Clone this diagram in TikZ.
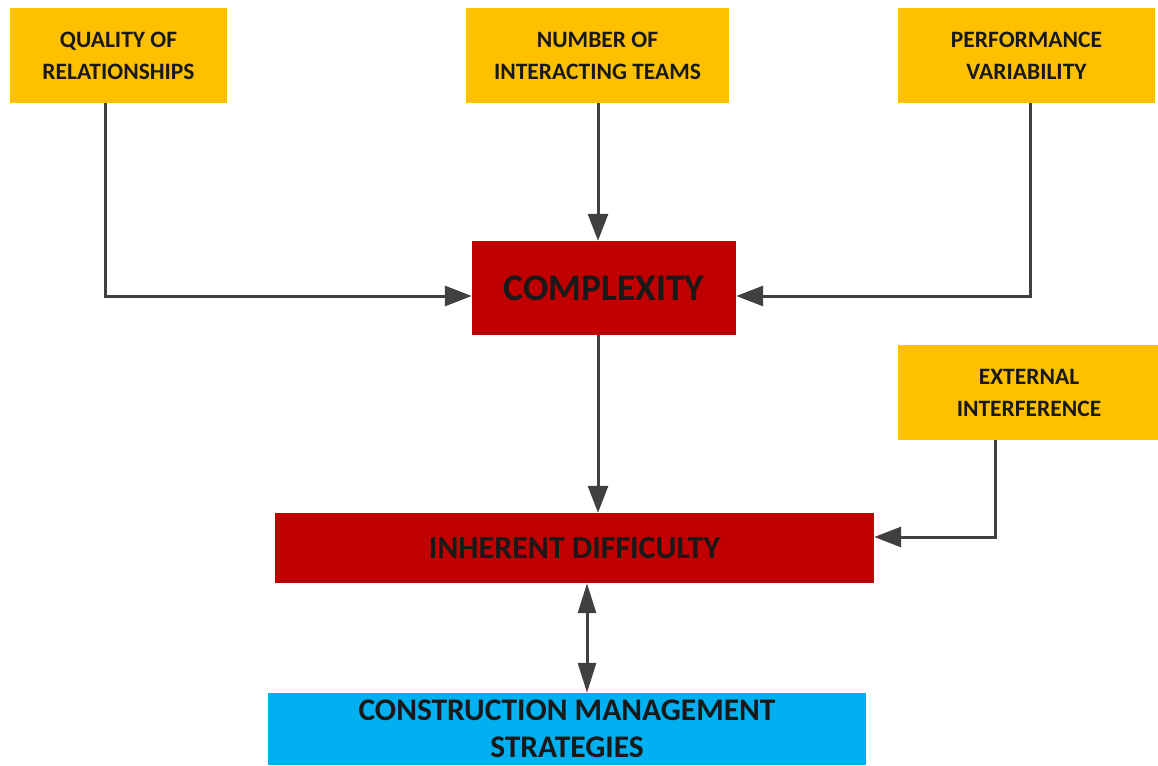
\documentclass[tikz,border=0pt]{standalone}
\usepackage{fontspec}
\setmainfont{Carlito}
\usetikzlibrary{arrows.meta}
\definecolor{boxyellow}{HTML}{FFC000}
\definecolor{boxred}{HTML}{C00000}
\definecolor{boxcyan}{HTML}{00B0F0}
\definecolor{arrgray}{HTML}{404040}
\tikzset{
  ybox/.style={fill=boxyellow, draw=none, align=center, inner sep=0pt, font=\fontsize{23.5}{32}\selectfont\bfseries, text=black!90},
  rbox/.style={fill=boxred, draw=none, align=center, inner sep=0pt, text=black!90},
  cbox/.style={fill=boxcyan, draw=none, align=center, inner sep=0pt, text=black!90, font=\fontsize{31.5}{37}\selectfont\bfseries},
  arr/.style={draw=arrgray, line width=3pt, -{Triangle[length=27pt,width=20pt]}},
  darr/.style={draw=arrgray, line width=3pt, {Triangle[length=30pt,width=18pt]}-{Triangle[length=30pt,width=18pt]}}
}
\begin{document}
\begin{tikzpicture}[x=1pt,y=-1pt]
\useasboundingbox (0,0) rectangle (1158,765);
\clip (0,0) rectangle (1158,765);
\node[ybox, minimum width=217pt, minimum height=95pt] (q) at (118.5,55.5) {QUALITY OF\\RELATIONSHIPS};
\node[ybox, minimum width=263pt, minimum height=95pt] (n) at (597.5,55.5) {NUMBER OF\\INTERACTING TEAMS};
\node[ybox, minimum width=257pt, minimum height=95pt] (p) at (1026.5,55.5) {PERFORMANCE\\VARIABILITY};
\node[rbox, minimum width=264pt, minimum height=94pt, font=\fontsize{37.5}{44}\selectfont\bfseries] (c) at (604,288) {COMPLEXITY};
\node[ybox, minimum width=262pt, minimum height=95pt] (e) at (1029,392.5) {EXTERNAL\\INTERFERENCE};
\node[rbox, minimum width=599pt, minimum height=70pt, font=\fontsize{32}{38}\selectfont\bfseries] (d) at (574.5,548) {INHERENT DIFFICULTY};
\node[cbox, minimum width=598pt, minimum height=72pt] (s) at (567,729) {CONSTRUCTION MANAGEMENT\\STRATEGIES};
\coordinate (qx) at (105,0);
\coordinate (px) at (1030,0);
\coordinate (cy) at (0,296);
\coordinate (nx) at (598,0);
\coordinate (ex) at (995,0);
\coordinate (dy) at (0,537);
\coordinate (sx) at (587,0);
\draw[arr] (q.south -| qx) -- (qx |- cy) -- (c.west |- cy);
\draw[arr] (p.south -| px) -- (px |- cy) -- (c.east |- cy);
\draw[arr] (n.south -| nx) -- (c.north -| nx);
\draw[arr] (c.south -| nx) -- (d.north -| nx);
\draw[arr] (e.south -| ex) -- (ex |- dy) -- (d.east |- dy);
\draw[darr] (d.south -| sx) -- (s.north -| sx);
\end{tikzpicture}
\end{document}
